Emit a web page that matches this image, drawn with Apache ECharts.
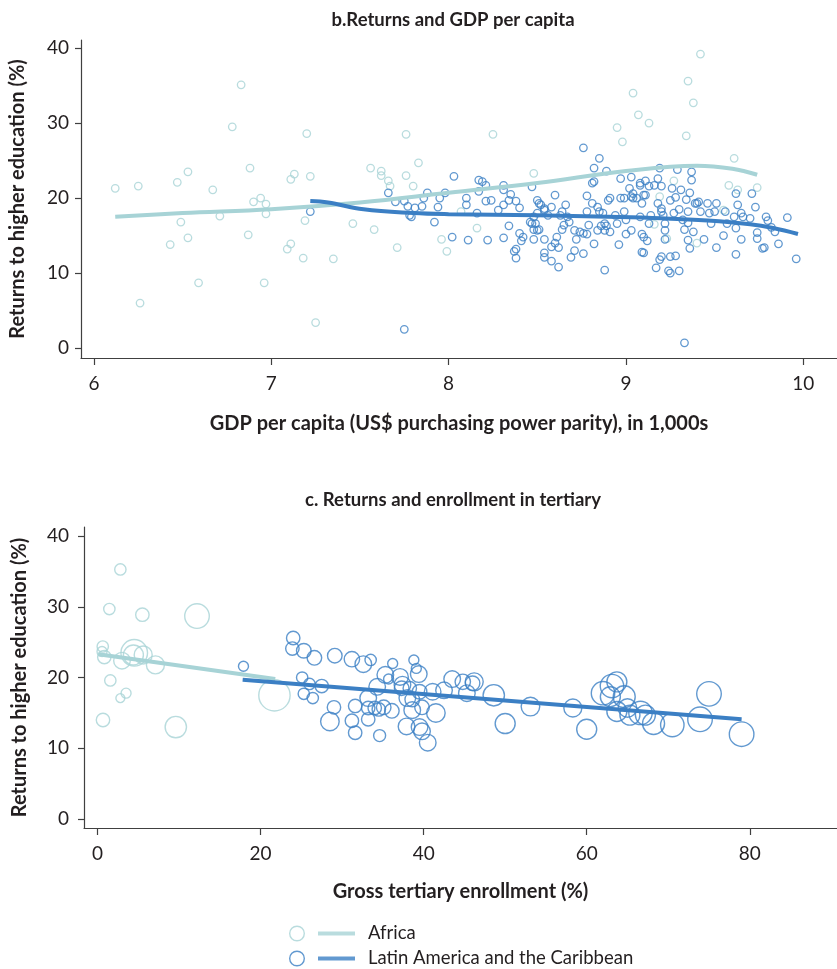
<!DOCTYPE html>
<html><head><meta charset="utf-8">
<script src="https://cdn.jsdelivr.net/npm/echarts@6/dist/echarts.min.js"></script>
<style>html,body{margin:0;padding:0;background:#fff}#c{width:837px;height:969px}</style>
</head><body><div id="c"></div>
<script>
// ---- Panel b: returns vs GDP per capita (x in US$ 1,000s PPP, y in %) ----
const africaGdpPoints = [
[6.12,21.3],[6.25,21.6],[6.26,6.0],[6.47,22.1],[6.53,23.5],[6.49,16.8],[6.43,13.8],[6.53,14.7],[6.59,8.7],[6.67,21.1],
[6.71,17.6],[6.78,29.5],[6.83,35.1],[6.88,24.0],[6.87,15.1],[6.94,20.0],[6.90,19.5],[6.97,19.2],[6.97,17.9],[6.96,8.7],
[7.11,22.5],[7.13,23.2],[7.09,13.2],[7.11,13.9],[7.20,28.6],[7.22,22.9],[7.19,17.0],[7.18,12.0],[7.25,3.4],[7.35,11.9],
[7.46,16.6],[7.56,24.0],[7.62,23.6],[7.62,23.0],[7.66,22.3],[7.67,21.6],[7.58,15.8],[7.71,13.4],[7.76,28.5],[7.76,23.0],
[7.83,24.7],[7.80,21.6],[7.96,14.5],[7.99,12.9],[8.07,18.2],[8.16,16.0],[8.25,28.5],[8.48,23.3],[8.95,29.4],[8.98,27.5],
[9.04,34.0],[9.07,31.1],[9.13,30.0],[9.34,28.3],[9.35,35.6],[9.38,32.7],[9.42,39.2],[9.61,25.3],[9.58,21.7],[9.63,21.1],
[9.74,21.4],[9.27,22.3],[9.19,20.2],[9.16,16.5],[9.23,14.6],[9.40,14.0],[9.55,18.4]
];
const lacGdpPoints = [
[7.22,18.2],[7.66,20.7],[7.70,19.5],[7.75,19.6],[7.77,18.9],[7.81,18.7],[7.78,17.7],[7.79,17.5],[7.85,18.9],[7.86,20.0],
[7.88,20.7],[7.92,16.8],[7.94,18.8],[7.95,20.0],[7.98,20.7],[8.03,22.9],[8.02,14.8],[7.75,2.5],
[8.10,20.0],[8.10,19.1],[8.16,18.0],[8.17,22.4],[8.19,22.2],[8.21,21.7],[8.17,20.9],[8.21,19.6],[8.24,19.7],[8.28,18.4],
[8.31,21.7],[8.31,21.1],[8.35,20.5],[8.34,19.7],[8.31,19.1],[8.38,19.6],[8.40,18.7],[8.47,21.5],[8.11,14.4],[8.22,14.4],
[8.31,14.7],[8.34,16.3],[8.40,15.3],[8.41,14.3],[8.42,14.8],[8.38,13.2],[8.37,12.9],[8.38,12.0],[8.48,14.5],
[8.50,19.7],[8.52,19.1],[8.51,19.3],[8.54,18.6],[8.50,18.0],[8.48,17.5],[8.46,16.8],[8.47,16.6],[8.49,16.6],[8.50,15.7],
[8.48,15.8],[8.51,15.8],[8.54,18.4],[8.56,17.7],[8.58,18.8],[8.60,20.4],[8.63,17.7],[8.64,18.2],[8.66,19.1],[8.67,17.5],
[8.68,16.8],[8.65,16.4],[8.64,15.8],[8.61,14.8],[8.60,14.0],[8.58,13.5],[8.54,12.7],[8.54,12.1],[8.58,11.6],[8.62,10.8],
[8.62,13.4],[8.54,14.5],[8.69,12.1],[8.71,13.0],[8.76,12.6],[8.71,15.7],[8.72,14.5],[8.74,15.5],[8.76,15.3],[8.78,15.2],
[8.79,16.4],[8.78,18.2],[8.78,20.3],[8.81,19.3],[8.81,22.0],[8.82,22.2],[8.82,24.0],[8.85,25.3],[8.89,23.6],[8.76,26.7],
[8.84,18.8],[8.85,18.2],[8.87,18.0],[8.88,16.6],[8.88,15.7],[8.86,16.3],[8.89,16.3],[8.84,15.7],[8.82,13.9],[8.88,10.4],
[8.90,19.7],[8.91,20.0],[8.91,15.5],
[8.94,17.7],[8.95,16.6],[8.96,13.8],[8.97,22.6],[8.97,20.0],[8.99,18.2],[8.99,20.0],[9.00,15.2],[9.00,17.1],[9.02,21.3],
[9.03,22.8],[9.03,15.7],[9.03,20.2],[9.04,20.6],[9.04,20.0],[9.06,20.0],[9.08,21.7],[9.08,22.0],[9.09,19.3],[9.10,20.4],
[9.11,22.3],[9.11,20.4],[9.13,21.6],[9.14,17.7],[9.13,16.6],[9.09,15.2],[9.10,14.8],[9.12,14.3],[9.09,12.8],[9.10,12.7],
[9.08,17.5],[9.16,21.7],[9.18,22.6],[9.19,24.0],[9.20,21.6],[9.18,19.3],[9.20,18.6],[9.20,18.2],[9.21,17.7],[9.22,16.6],
[9.22,15.7],[9.22,14.5],[9.25,19.7],[9.26,21.3],[9.27,18.0],[9.28,20.1],[9.29,23.8],[9.30,18.5],[9.31,21.1],[9.32,17.1],
[9.33,15.8],[9.34,19.8],[9.35,18.2],[9.35,16.7],[9.36,20.7],[9.37,23.5],[9.37,22.4],[9.35,14.4],[9.36,13.3],[9.38,15.5],
[9.39,19.3],[9.40,19.3],[9.41,19.5],[9.42,18.2],[9.44,14.5],[9.46,19.3],[9.47,18.0],[9.48,16.6],[9.50,18.2],[9.51,19.3],
[9.51,13.4],[9.55,15.0],[9.56,18.2],[9.57,16.6],[9.61,17.5],[9.62,20.6],[9.63,19.1],[9.62,16.0],[9.62,12.5],[9.65,18.0],
[9.65,14.5],[9.66,17.5],[9.70,17.3],[9.71,20.6],[9.73,18.8],[9.74,15.4],[9.74,14.6],[9.77,13.3],[9.78,13.4],[9.79,17.5],
[9.80,17.0],[9.82,16.1],[9.84,15.5],[9.86,13.9],[9.91,17.4],[9.96,11.9],[9.17,10.7],[9.19,11.8],[9.20,12.2],[9.24,10.3],
[9.25,10.0],[9.25,12.2],[9.28,12.3],[9.30,10.3],[9.33,0.7]
];
const africaGdpFit = [[6.12,17.5],[6.5,18.0],[7.0,18.5],[7.5,19.4],[8.0,20.7],[8.5,22.0],[9.0,23.6],[9.4,24.3],[9.6,23.9],[9.74,23.1]];
const lacGdpFit = [[7.22,19.6],[7.32,19.4],[7.52,18.5],[7.8,18.0],[8.0,17.85],[8.5,17.7],[8.9,17.5],[9.2,17.3],[9.46,17.0],[9.7,16.5],[9.83,16.0],[9.97,15.2]];

// ---- Panel c: returns vs gross tertiary enrollment (x %, y %, weight) ----
const africaEnrollPoints = [
[2.8,35.3,32],[1.45,29.7,32],[5.5,28.9,45],[12.2,28.7,151],[0.64,24.4,32],[0.55,23.7,25],[0.83,22.9,45],[4.5,23.5,177],
[4.4,23.2,100],[3.0,22.4,69],[5.6,23.2,81],[7.1,21.8,81],[1.57,19.6,32],[3.5,17.8,25],[2.8,17.1,20],[0.67,14.0,45],
[9.6,13.0,114],[21.7,17.5,246]
];
const lacEnrollPoints = [
[17.9,21.6,25],[24.0,25.6,45],[23.9,24.1,45],[25.3,23.8,53],[26.6,22.8,53],[29.1,23.1,53],[31.2,22.6,59],[32.6,21.9,69],
[33.5,22.5,32],[36.2,22.0,25],[38.8,22.5,25],[39.1,21.3,25],[35.3,20.4,69],[37.1,20.1,69],[39.4,20.5,69],[35.7,19.8,25],
[25.1,20.0,32],[26.0,19.1,32],[27.5,18.8,45],[25.3,17.7,32],[26.4,17.1,32],[34.3,18.7,69],[37.4,19.0,69],[37.3,18.5,53],
[38.3,18.5,45],[39.5,18.0,53],[41.1,18.0,69],[43.5,19.8,69],[44.8,19.4,59],[42.5,18.2,69],[46.2,19.4,81],[46.0,19.2,53],
[45.3,17.8,69],[48.6,17.5,114],[33.2,17.1,69],[38.0,17.1,69],[38.6,16.9,53],[29.0,15.8,45],[31.6,16.0,45],[33.2,15.7,45],
[34.0,15.7,45],[35.1,15.8,53],[36.1,15.3,53],[34.5,15.5,45],[38.6,15.4,69],[39.8,15.8,53],[41.5,15.0,86],[28.5,13.8,86],
[31.2,13.9,45],[33.2,14.1,45],[37.9,13.1,69],[39.5,13.0,69],[39.8,12.4,69],[31.6,12.2,45],[34.6,11.8,36],[40.5,10.8,69],
[50.0,13.5,100],[53.1,15.9,86],[58.3,15.7,81],[60.0,12.7,100],[62.0,17.8,137],[63.1,18.8,137],[63.7,19.4,100],[62.9,17.3,100],
[64.6,17.3,121],[63.7,15.2,100],[65.0,15.7,86],[65.3,14.7,100],[66.6,15.0,137],[67.2,14.7,100],[68.2,13.5,121],[70.5,13.3,137],
[73.9,14.1,151],[75.0,17.7,151],[79.0,12.0,151]
];
const africaEnrollFit = [[0.1,23.3],[21.8,19.8]];
const lacEnrollFit = [[17.8,19.7],[79.0,14.1]];

const gdpTicks = [6,7,8,9,10];
const enrollTicks = [0,20,40,60,80];
const returnTicks = [0,10,20,30,40];

const AF = '#a7d3d6';
const LAC = '#3b7fc4';
const TXT = '#231f20';
const FONT = 'Lato';

function xAxisCfg(gridIndex, min, max, ticks, name, gap) {
  return {
    type: 'value', gridIndex, min, max, name, nameLocation: 'middle', nameGap: gap,
    nameTextStyle: {color: TXT, fontSize: 20, fontWeight: 'bold', fontFamily: FONT},
    axisLine: {show: true, onZero: false, lineStyle: {color: '#404040', width: 1.2}},
    axisTick: {show: true, customValues: ticks, length: 7, lineStyle: {color: '#404040', width: 1.2}},
    axisLabel: {customValues: ticks, color: TXT, fontSize: 19, fontFamily: FONT, margin: 16},
    splitLine: {show: false}
  };
}
function yAxisCfg(gridIndex, min, max, ticks, name, gap, labelMargin) {
  return {
    type: 'value', gridIndex, min, max, name, nameLocation: 'middle', nameGap: gap,
    nameTextStyle: {color: TXT, fontSize: 20, fontWeight: 'bold', fontFamily: FONT},
    axisLine: {show: true, onZero: false, lineStyle: {color: '#404040', width: 1.2}},
    axisTick: {show: true, customValues: ticks, length: 6, lineStyle: {color: '#404040', width: 1.2}},
    axisLabel: {customValues: ticks, color: TXT, fontSize: 19, fontFamily: FONT, margin: labelMargin},
    splitLine: {show: false}
  };
}

const legendIcon = 'path://M0,8A8,8,0,1,0,16,8A8,8,0,1,0,0,8ZM1.4,8A6.6,6.6,0,1,1,14.6,8A6.6,6.6,0,1,1,1.4,8ZM29,6H66V10H29Z';
function legendCfg(top, name, color) {
  return {
    left: 289, top, padding: 0, itemWidth: 66, itemHeight: 16, selectedMode: false,
    textStyle: {color: TXT, fontSize: 18.5, fontFamily: FONT, padding: [0, 0, 0, 8]},
    data: [{name, icon: legendIcon, itemStyle: {color, borderWidth: 0}}]
  };
}

const chart = echarts.init(document.getElementById('c'), null, {renderer: 'canvas'});
chart.setOption({
  animation: false,
  backgroundColor: '#fff',
  title: [
    {text: 'b.Returns and GDP per capita', left: 448, top: 6, textAlign: 'center',
     textStyle: {color: TXT, fontSize: 18.5, fontWeight: 'bold', fontFamily: FONT}},
    {text: 'c. Returns and enrollment in tertiary', left: 448, top: 486, textAlign: 'center',
     textStyle: {color: TXT, fontSize: 18.5, fontWeight: 'bold', fontFamily: FONT}}
  ],
  legend: [
    legendCfg(924, 'Africa', AF),
    legendCfg(949, 'Latin America and the Caribbean', LAC)
  ],
  grid: [
    {left: 80, top: 40, width: 757, height: 318},
    {left: 84, top: 527, width: 753, height: 301}
  ],
  xAxis: [
    xAxisCfg(0, 5.927, 10.19, gdpTicks, 'GDP per capita (US$ purchasing power parity), in 1,000s', 56),
    xAxisCfg(1, -1.66, 90.7, enrollTicks, 'Gross tertiary enrollment (%)', 54)
  ],
  yAxis: [
    yAxisCfg(0, -1.33, 41.07, returnTicks, 'Returns to higher education (%)', 53, 12),
    yAxisCfg(1, -1.27, 41.3, returnTicks, 'Returns to higher education (%)', 54, 15)
  ],
  series: [
    {name: 'Africa', type: 'scatter', xAxisIndex: 0, yAxisIndex: 0, data: africaGdpPoints, symbol: 'circle', symbolSize: 7.5,
     itemStyle: {color: 'rgba(255,255,255,0)', borderColor: AF, borderWidth: 1.3}, silent: true},
    {name: 'Latin America and the Caribbean', type: 'scatter', xAxisIndex: 0, yAxisIndex: 0, data: lacGdpPoints, symbol: 'circle', symbolSize: 7.5,
     itemStyle: {color: 'rgba(255,255,255,0)', borderColor: LAC, borderWidth: 1.3}, silent: true},
    {name: 'Africa', type: 'line', xAxisIndex: 0, yAxisIndex: 0, data: africaGdpFit, smooth: 0.4, showSymbol: false,
     lineStyle: {color: AF, width: 4}, itemStyle: {color: AF}, silent: true},
    {name: 'Latin America and the Caribbean', type: 'line', xAxisIndex: 0, yAxisIndex: 0, data: lacGdpFit, smooth: 0.4, showSymbol: false,
     lineStyle: {color: LAC, width: 4}, itemStyle: {color: LAC}, silent: true},
    {name: 'Africa', type: 'scatter', xAxisIndex: 1, yAxisIndex: 1, data: africaEnrollPoints, symbol: 'circle',
     symbolSize: v => 2 * Math.sqrt(v[2]),
     itemStyle: {color: 'rgba(255,255,255,0)', borderColor: AF, borderWidth: 1.4}, silent: true},
    {name: 'Latin America and the Caribbean', type: 'scatter', xAxisIndex: 1, yAxisIndex: 1, data: lacEnrollPoints, symbol: 'circle',
     symbolSize: v => 2 * Math.sqrt(v[2]),
     itemStyle: {color: 'rgba(255,255,255,0)', borderColor: LAC, borderWidth: 1.4}, silent: true},
    {name: 'Africa', type: 'line', xAxisIndex: 1, yAxisIndex: 1, data: africaEnrollFit, showSymbol: false,
     lineStyle: {color: AF, width: 4}, itemStyle: {color: AF}, silent: true},
    {name: 'Latin America and the Caribbean', type: 'line', xAxisIndex: 1, yAxisIndex: 1, data: lacEnrollFit, showSymbol: false,
     lineStyle: {color: LAC, width: 4}, itemStyle: {color: LAC}, silent: true}
  ]
});
</script>
</body></html>
